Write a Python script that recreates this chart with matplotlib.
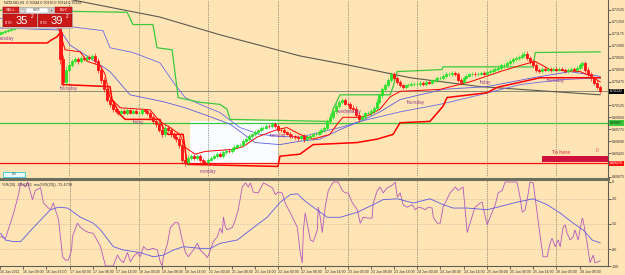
import matplotlib
matplotlib.use("Agg")
import matplotlib.pyplot as plt
from matplotlib.patches import Rectangle

# NZDUSD H1, hourly closes for each trading day (16 Jun - 28 Jun 2021)
first_open = 0.7117
c_16jun = [0.7119, 0.7120, 0.7122, 0.7123, 0.7125, 0.7126, 0.7128, 0.7129, 0.7131, 0.7131, 0.7132, 0.7132,
           0.7133, 0.7132, 0.7132, 0.7131, 0.7131, 0.7132, 0.7131, 0.7129, 0.7126, 0.7080, 0.7047, 0.7065]
c_17jun = [0.7072, 0.7077, 0.7080, 0.7077, 0.7082, 0.7080, 0.7084, 0.7082, 0.7085, 0.7077, 0.7065, 0.7050,
           0.7036, 0.7021, 0.7014, 0.7007, 0.7004, 0.7001, 0.7004, 0.7002, 0.7005, 0.7002, 0.7004, 0.7002]
c_18jun = [0.7002, 0.7005, 0.7004, 0.7001, 0.6995, 0.6989, 0.6985, 0.6977, 0.6970, 0.6980, 0.6977, 0.6970,
           0.6966, 0.6963, 0.6955, 0.6933, 0.6929, 0.6936, 0.6938, 0.6935, 0.6938, 0.6933, 0.6930, 0.6929]
c_21jun = [0.6933, 0.6936, 0.6938, 0.6941, 0.6939, 0.6944, 0.6946, 0.6945, 0.6949, 0.6952, 0.6954, 0.6955,
           0.6960, 0.6963, 0.6967, 0.6970, 0.6973, 0.6976, 0.6979, 0.6980, 0.6983, 0.6982, 0.6985, 0.6982]
c_22jun = [0.6977, 0.6976, 0.6973, 0.6971, 0.6968, 0.6967, 0.6966, 0.6964, 0.6967, 0.6963, 0.6966, 0.6967,
           0.6970, 0.6971, 0.6974, 0.6977, 0.6980, 0.6989, 0.6996, 0.7004, 0.7012, 0.7018, 0.7021, 0.7015]
c_23jun = [0.7014, 0.7009, 0.7007, 0.6999, 0.6992, 0.6995, 0.7001, 0.7002, 0.7004, 0.7009, 0.7018, 0.7027,
           0.7036, 0.7043, 0.7050, 0.7058, 0.7053, 0.7047, 0.7042, 0.7039, 0.7042, 0.7043, 0.7044, 0.7044]
c_24jun = [0.7044, 0.7046, 0.7044, 0.7047, 0.7046, 0.7049, 0.7050, 0.7052, 0.7053, 0.7055, 0.7058, 0.7059,
           0.7060, 0.7058, 0.7050, 0.7047, 0.7053, 0.7056, 0.7058, 0.7059, 0.7058, 0.7059, 0.7060, 0.7059]
c_25jun = [0.7062, 0.7063, 0.7065, 0.7066, 0.7068, 0.7071, 0.7072, 0.7075, 0.7077, 0.7080, 0.7082, 0.7084,
           0.7087, 0.7088, 0.7082, 0.7077, 0.7071, 0.7065, 0.7063, 0.7066, 0.7065, 0.7066, 0.7065, 0.7066]
c_28jun = [0.7065, 0.7066, 0.7065, 0.7063, 0.7065, 0.7066, 0.7065, 0.7068, 0.7071, 0.7074, 0.7065, 0.7058,
           0.7052, 0.7046, 0.7040, 0.7033]
day_closes = [c_16jun, c_17jun, c_18jun, c_21jun, c_22jun, c_23jun, c_24jun, c_25jun, c_28jun]

# total wick length of each hourly candle, pips
w_16jun = [4, 3, 3, 4, 3, 3, 4, 3, 3, 3, 4, 3, 3, 3, 4, 3, 3, 4, 3, 4, 6, 15, 12, 10]
w_17jun = [8, 6, 6, 7, 5, 6, 6, 5, 6, 8, 10, 10, 9, 8, 8, 7, 6, 6, 5, 5, 6, 5, 5, 5]
w_18jun = [5, 6, 5, 6, 7, 8, 8, 8, 9, 8, 7, 8, 7, 8, 9, 12, 10, 8, 6, 6, 5, 6, 5, 5]
w_21jun = [6, 5, 5, 6, 5, 6, 6, 5, 6, 6, 5, 6, 6, 6, 6, 5, 6, 5, 6, 5, 5, 5, 5, 5]
w_22jun = [6, 6, 6, 5, 6, 6, 5, 6, 5, 8, 5, 6, 5, 6, 5, 6, 6, 7, 7, 6, 7, 6, 6, 5]
w_23jun = [6, 6, 7, 8, 7, 6, 5, 5, 6, 6, 7, 7, 7, 6, 6, 7, 6, 6, 6, 5, 5, 5, 5, 5]
w_24jun = [5, 5, 5, 6, 5, 5, 5, 6, 5, 6, 6, 5, 6, 6, 7, 6, 6, 5, 5, 5, 5, 5, 5, 5]
w_25jun = [5, 5, 5, 6, 6, 6, 6, 6, 6, 7, 6, 6, 7, 7, 7, 7, 6, 6, 5, 5, 5, 5, 6, 5]
w_28jun = [5, 5, 5, 5, 5, 5, 5, 5, 6, 8, 6, 7, 7, 7, 8, 6]
day_wicks = [w_16jun, w_17jun, w_18jun, w_21jun, w_22jun, w_23jun, w_24jun, w_25jun, w_28jun]

# indicator lines (bar index, price)
green_bar = [0.2, 44.0, 46.0, 52.9, 54.3, 59.5, 61.6, 69.1, 76.0, 78.4, 79.5, 113.9, 115.0, 117.4, 134.7,
             135.7, 137.1, 152.6, 152.9, 184.0, 184.7, 207.1]
green_px = [0.7152, 0.7149, 0.7131, 0.7131, 0.7097, 0.7094, 0.7024, 0.7017, 0.7014, 0.7007, 0.6992, 0.6989,
            0.7007, 0.7028, 0.7028, 0.7040, 0.7062, 0.7065, 0.7069, 0.7069, 0.7090, 0.7091]

redlow_bar = [0.2, 16.4, 18.1, 19.8, 20.9, 21.6, 21.6, 38.1, 38.8, 41.6, 43.3, 55.3, 56.4, 58.1, 63.3, 64.7,
              96.0, 96.7, 103.6, 108.1, 123.3, 130.2, 135.7, 138.1, 148.4, 152.9, 154.3, 168.1, 171.6,
              186.4, 207.1]
redlow_px = [0.7104, 0.7104, 0.7109, 0.7113, 0.7119, 0.7119, 0.7043, 0.7040, 0.7021, 0.6999, 0.6992, 0.6992,
             0.6980, 0.6970, 0.6970, 0.6926, 0.6923, 0.6938, 0.6941, 0.6955, 0.6958, 0.6963, 0.6970, 0.6987,
             0.6989, 0.7011, 0.7024, 0.7031, 0.7039, 0.7053, 0.7053]

redfast_bar = [20.9, 21.6, 22.6, 27.8, 30.2, 34.7, 36.4, 38.1, 41.6, 51.9, 55.3, 58.8, 62.2, 64.0, 67.4,
               70.9, 80.5, 84.0, 88.8, 95.7, 99.1, 103.6, 108.1, 113.9, 116.4, 118.4, 124.3, 127.8, 131.2,
               134.7, 138.1, 151.9, 162.2, 172.6, 179.5, 184.7, 189.8, 200.2, 203.6, 207.1]
redfast_px = [0.7119, 0.7109, 0.7094, 0.7091, 0.7077, 0.7071, 0.7058, 0.7024, 0.7009, 0.7006, 0.6989,
              0.6980, 0.6970, 0.6951, 0.6941, 0.6945, 0.6948, 0.6952, 0.6966, 0.6977, 0.6980, 0.6970, 0.6963,
              0.6970, 0.6985, 0.6995, 0.6995, 0.6999, 0.7007, 0.7025, 0.7033, 0.7036, 0.7047, 0.7062, 0.7071,
              0.7077, 0.7065, 0.7062, 0.7056, 0.7047]

blueslow_bar = [0.2, 20.9, 24.3, 35.7, 38.1, 46.0, 55.3, 60.5, 64.0, 69.1, 76.0, 82.9, 89.8, 96.7, 103.6,
                110.5, 117.4, 124.3, 131.2, 138.1, 151.9, 165.7, 179.5, 193.3, 207.1]
blueslow_px = [0.7140, 0.7135, 0.7128, 0.7122, 0.7097, 0.7090, 0.7075, 0.7043, 0.7024, 0.7014, 0.7002,
               0.6980, 0.6970, 0.6967, 0.6966, 0.6973, 0.6980, 0.6989, 0.6996, 0.7003, 0.7014, 0.7028,
               0.7043, 0.7050, 0.7053]

bluefast_bar = [0.2, 20.9, 24.3, 31.2, 38.1, 45.0, 56.4, 64.0, 72.6, 79.5, 88.1, 96.7, 103.6, 110.5, 117.4,
                124.3, 131.2, 138.1, 152.9, 168.1, 184.0, 196.7, 207.1]
bluefast_px = [0.7126, 0.7123, 0.7101, 0.7082, 0.7062, 0.7028, 0.7018, 0.7009, 0.6996, 0.6985, 0.6958,
               0.6955, 0.6960, 0.6963, 0.6977, 0.6989, 0.7003, 0.7021, 0.7036, 0.7040, 0.7053, 0.7062, 0.7055]

ma200_bar = [14.0, 25.3, 55.3, 76.0, 103.6, 121.0, 141.6, 165.7, 189.8, 207.1]
ma200_px = [0.7179, 0.7167, 0.7142, 0.7116, 0.7085, 0.7071, 0.7053, 0.7040, 0.7033, 0.7028]

bid = 0.70332
green_level = 0.69867
red_level = 0.69276

day_names = ["tuesday", "thursday", "friday", "monday", "tuesday", "wednesday", "thursday", "friday", "thursday"]
day_name_bar = [-0.6, 20.9, 46.0, 69.1, 93.3, 116.4, 140.5, 165.7, 188.8]
day_name_px = [0.7110, 0.7037, 0.6987, 0.6916, 0.6968, 0.7003, 0.7017, 0.7046, 0.7049]

# Williams %R(20) and its moving average (bar index, value)
wpr_bar = [0.2, 1.9, 4.7, 6.4, 7.1, 8.8, 9.5, 11.2, 12.2, 14.0, 15.0, 16.4, 17.4, 18.4, 20.2, 21.6, 22.6, 23.6,
           24.7, 25.0, 26.7, 27.8, 28.8, 30.5, 32.2, 34.7, 36.4, 38.1, 39.1, 40.5, 41.6, 42.6, 44.0, 45.0,
           46.0, 47.4, 48.4, 49.5, 50.9, 52.9, 54.3, 55.3, 56.0, 56.4, 57.8, 58.8, 60.5, 61.6, 62.9, 64.0,
           65.0, 66.7, 68.1, 69.1, 70.9, 71.6, 72.6, 73.6, 75.0, 76.0, 76.7, 77.1, 77.8, 78.4, 80.2, 81.2,
           82.2, 83.6, 84.7, 85.7, 86.4, 87.4, 89.1, 90.9, 94.0, 95.0, 96.0, 97.4, 98.4, 100.2, 102.6, 103.6,
           104.3, 104.7, 105.3, 106.0, 107.1, 108.1, 109.5, 109.8, 110.5, 111.2, 112.2, 113.3, 115.0, 116.7,
           118.1, 119.1, 120.2, 121.6, 123.3, 124.3, 125.3, 127.1, 128.4, 128.8, 130.2, 131.2, 132.2, 133.6,
           135.3, 136.4, 137.1, 138.1, 139.1, 140.5, 142.2, 143.3, 144.3, 145.7, 146.7, 147.8, 149.1, 149.5,
           150.9, 151.9, 152.9, 155.3, 157.1, 158.1, 159.8, 161.2, 162.2, 163.9, 165.7, 166.4, 166.7, 168.1,
           169.1, 170.9, 171.9, 173.3, 174.3, 178.4, 179.5, 180.2, 181.2, 182.2, 182.9, 184.0, 185.3, 186.4,
           187.4, 188.8, 189.8, 190.5, 191.6, 192.6, 193.3, 194.3, 195.0, 195.7, 196.7, 197.8, 198.4, 199.5,
           200.9, 201.2, 202.6, 203.6, 204.7, 205.3, 206.4, 207.1]
wpr_val = [-65, -67, -37, -15, -1, -6, 0, -21, -10, -7, -25, -30, -33, -25, -45, -89, -93, -93,
           -81, -65, -49, -54, -57, -60, -61, -77, -100, -100, -100, -87, -93, -96, -84, -95,
           -89, -84, -89, -77, -81, -79, -81, -95, -100, -89, -73, -54, -48, -49, -69, -84,
           -89, -81, -73, -81, -87, -90, -81, -71, -65, -55, -61, -42, -54, -57, -54, -45,
           -33, -6, -1, -6, -1, -12, -13, -1, -7, -15, -12, -13, -25, -37, -54, -84,
           -96, -57, -37, -49, -69, -71, -57, -30, -42, -60, -30, -10, 0, 0,
           -10, -13, -13, -25, -33, -49, -42, -43, -43, -25, -10, -6, -13, -7,
           -4, 0, -18, -13, -27, -30, -27, -33, -30, -31, -33, -30, -31, -42,
           -49, -49, -30, -13, -6, -10, -6, -60, -49, -30, -25, -24, -30, -51,
           -42, -27, -13, -10, 0, 0, -19, -36, -33, -15, 0, -1, -36, -65,
           -89, -89, -73, -67, -77, -69, -77, -54, -51, -61, -69, -65, -57, -69,
           -43, -45, -73, -96, -87, -96, -95, -93.6]
wma_bar = [0.2, 1.9, 4.7, 7.1, 11.6, 17.4, 20.2, 23.3, 27.8, 32.2, 34.7, 39.1, 42.6, 48.4, 52.9, 56.4, 59.8,
           63.3, 69.1, 72.6, 76.0, 81.9, 86.4, 92.2, 96.7, 100.2, 102.6, 104.7, 108.1, 110.5, 112.9, 117.4,
           123.3, 128.8, 132.2, 137.1, 142.6, 148.4, 152.9, 156.4, 161.2, 168.1, 171.6, 178.4, 184.0, 188.8,
           193.3, 197.8, 201.2, 204.3, 207.1]
wma_val = [-61, -69, -71, -71, -54, -33, -30, -31, -42, -49, -57, -77, -81, -84, -89, -87, -81,
           -77, -79, -79, -73, -69, -57, -42, -24, -15, -14, -21, -30, -36, -42, -42,
           -36, -27, -21, -20, -25, -20, -27, -31, -31, -33, -30, -24, -20, -27,
           -37, -49, -57, -69, -72.5]

# price labels that are covered by the bid / level boxes are left blank
price_ticks = [0.71525, 0.71350, 0.71175, 0.71000, 0.70825, 0.70650, 0.70475, 0.70300, 0.70125,
               0.69950, 0.69775, 0.69600, 0.69425, 0.69250, 0.69075]
hidden_ticks = [0.70300, 0.69250]
wpr_ticks = [0, -20, -50, -80, -100]
day_starts = [24, 48, 72, 96, 120, 144, 168, 192]
time_labels = ["16 Jun 2021", "16 Jun 08:00", "16 Jun 16:00", "17 Jun 00:00", "17 Jun 08:00", "17 Jun 16:00",
               "18 Jun 00:00", "18 Jun 08:00", "18 Jun 16:00", "21 Jun 00:00", "21 Jun 08:00", "21 Jun 16:00",
               "22 Jun 00:00", "22 Jun 08:00", "22 Jun 16:00", "23 Jun 00:00", "23 Jun 08:00", "23 Jun 16:00",
               "24 Jun 00:00", "24 Jun 08:00", "24 Jun 16:00", "25 Jun 00:00", "25 Jun 08:00", "25 Jun 16:00",
               "28 Jun 00:00", "28 Jun 08:00"]

plt.rcParams["font.family"] = ["Liberation Sans", "DejaVu Sans"]
BG = "#FFE4B5"
AXC = "#5E5E52"
fig = plt.figure(figsize=(6.25, 2.75), dpi=100, facecolor=BG)
ax = fig.add_axes([0, 1 - 177 / 275, 608 / 625, 177 / 275], facecolor=BG)
ax2 = fig.add_axes([0, 1 - 266 / 275, 608 / 625, 87 / 275], facecolor=BG)

closes = []
wicks = []
for d, w in zip(day_closes, day_wicks):
    closes += d
    wicks += w
opens = [first_open] + closes[:-1]
idx = list(range(len(closes)))
heights = [c - o for o, c in zip(opens, closes)]
cols = ["#2EE02E" if h >= 0 else "#FF1414" for h in heights]
highs = [max(o, c) + w * 0.00005 for o, c, w in zip(opens, closes, wicks)]
lows = [min(o, c) - w * 0.00005 for o, c, w in zip(opens, closes, wicks)]
ax.vlines(idx, lows, highs, colors=cols, lw=0.5, zorder=5)
ax.bar(idx, heights, bottom=opens, width=0.7, color=cols, edgecolor=cols, linewidth=0.6, zorder=5)

# zones and levels
ax.add_patch(Rectangle((65.7, red_level), 96.0 - 65.7, 0.6989 - red_level, fc="#FBFCFF", ec="none", zorder=1))
ax.axhline(green_level, color="#3CC83C", lw=0.9, zorder=2)
ax.axhline(red_level, color="#FF1010", lw=0.9, zorder=2)
ax.axhline(bid, color="#8A8A78", lw=0.7, zorder=2)
ax.add_patch(Rectangle((187.1, 0.6929), 30, 0.0010, fc="#D0103A", ec="none", zorder=6))
ax.text(190.5, 0.6943, "To here", color="#E0303A", fontsize=4, va="center", zorder=7)
ax.text(205.5, 0.6946, "0", color="#E05050", fontsize=3.5, va="center", zorder=7)

ax.plot(ma200_bar, ma200_px, color="#5A5A4E", lw=0.8, zorder=3)
ax.plot(blueslow_bar, blueslow_px, color="#6A6AE6", lw=0.6, zorder=3)
ax.plot(bluefast_bar, bluefast_px, color="#5C5CE0", lw=0.6, zorder=3)
ax.plot(green_bar, green_px, color="#3CC83C", lw=0.9, zorder=3)
ax.plot(redlow_bar, redlow_px, color="#FF0000", lw=1.1, zorder=3)
ax.plot(redfast_bar, redfast_px, color="#FF0000", lw=0.7, zorder=4)

for name, b, p in zip(day_names, day_name_bar, day_name_px):
    ax.text(b, p, name, color="#8E3A8E", fontsize=3.3, va="center", ha="left", zorder=8, clip_on=True)

for d in day_starts:
    ax.axvline(d, color="#4A4A40", lw=0.5, ls=(0, (1, 1.5)), zorder=1)
    ax2.axvline(d, color="#4A4A40", lw=0.5, ls=(0, (1, 1.5)), zorder=1)

ax.set_xlim(0.17, 209.8)
ax.set_ylim(0.69086, 0.7167)
ax.set_xticks([])
ax.yaxis.tick_right()
ax.set_yticks(price_ticks)
ax.set_yticklabels(["" if p in hidden_ticks else f"{p:.5f}" for p in price_ticks])
ax.tick_params(axis="y", labelsize=2.6, length=2, width=0.5, pad=1, colors="#303030")
for s in ["top", "left", "bottom"]:
    ax.spines[s].set_visible(False)
ax.spines["right"].set_color(AXC)
ax.spines["right"].set_linewidth(0.8)

# right axis price boxes
for val, fc, tc in [(bid, "#000000", "white"), (green_level, "#3CC83C", "#103010"), (red_level, "#FF1010", "white")]:
    ax.text(1.003, val, f"{val:.5f}", transform=ax.get_yaxis_transform(), fontsize=2.6, color=tc,
            va="center", ha="left", clip_on=False, zorder=10,
            bbox=dict(boxstyle="square,pad=0.2", fc=fc, ec="none"))

# lower panel
for lv in [-20, -50, -80]:
    ax2.axhline(lv, color="#B8B0A0", lw=0.5, ls=(0, (1, 1.5)), zorder=1)
ax2.plot(wpr_bar, wpr_val, color="#B458BC", lw=0.6, zorder=3)
ax2.plot(wma_bar, wma_val, color="#5A5AE2", lw=0.6, zorder=3)
ax2.set_xlim(0.17, 209.8)
ax2.set_ylim(-100, 3.57)
ax2.yaxis.tick_right()
ax2.set_yticks(wpr_ticks)
ax2.set_yticklabels([str(t) for t in wpr_ticks])
ax2.tick_params(axis="y", labelsize=2.6, length=2, width=0.5, pad=1, colors="#303030")
ax2.set_xticks([8 * k for k in range(len(time_labels))])
ax2.set_xticklabels(time_labels, ha="left")
ax2.tick_params(axis="x", labelsize=2.5, length=2, width=0.5, pad=1, colors="#303030")
ax2.spines["left"].set_visible(False)
ax2.spines["top"].set_color("#6E6E5E")
ax2.spines["top"].set_linewidth(2.2)
ax2.spines["right"].set_color(AXC)
ax2.spines["right"].set_linewidth(0.8)
ax2.spines["bottom"].set_color(AXC)
ax2.spines["bottom"].set_linewidth(0.8)
ax2.text(0.004, 0.955, "%R(20) -93.6261  ma(%R(20)) -72.4739", transform=ax2.transAxes,
         fontsize=2.8, color="#303030", va="top", ha="left")

# one-click trading panel and small widgets (screen overlay)
ui = fig.add_axes([0, 0, 1, 1], facecolor="none")
ui.set_xlim(0, 625)
ui.set_ylim(275, 0)
ui.axis("off")
ui.text(4, 2.6, "NZDUSD,H1  0.70344 0.70370 0.70314 0.70332", fontsize=2.6, color="#202020", va="center")
ui.add_patch(Rectangle((2, 6.5), 70, 21, fc="#E8E8E8", ec="#A0A0A0", lw=0.4))
ui.add_patch(Rectangle((2.5, 7), 16.5, 6, fc="#D42020", ec="#901010", lw=0.3))
ui.text(10.7, 10, "SELL", fontsize=2.8, color="white", ha="center", va="center")
ui.add_patch(Rectangle((20, 7.5), 5, 5, fc="#DADADA", ec="#909090", lw=0.3))
ui.text(22.5, 10, "-", fontsize=3.5, color="#303030", ha="center", va="center")
ui.add_patch(Rectangle((26, 7.5), 22, 5, fc="white", ec="#909090", lw=0.3))
ui.text(37, 10, "0.03", fontsize=2.8, color="#303030", ha="center", va="center")
ui.add_patch(Rectangle((49, 7.5), 5, 5, fc="#DADADA", ec="#909090", lw=0.3))
ui.text(51.5, 10, "+", fontsize=3.5, color="#303030", ha="center", va="center")
ui.add_patch(Rectangle((55, 7), 16.5, 6, fc="#D42020", ec="#901010", lw=0.3))
ui.text(63.2, 10, "BUY", fontsize=2.8, color="white", ha="center", va="center")
ui.add_patch(Rectangle((2.5, 14), 34, 13, fc="#C81818", ec="#901010", lw=0.3))
ui.add_patch(Rectangle((37.5, 14), 34, 13, fc="#C81818", ec="#901010", lw=0.3))
ui.text(4.5, 23, "0.70", fontsize=2.8, color="white", va="center")
ui.text(16, 21, "35", fontsize=8, color="white", va="center")
ui.text(31, 16.5, "2", fontsize=3.5, color="white", va="center")
ui.text(39.5, 23, "0.70", fontsize=2.8, color="white", va="center")
ui.text(51, 21, "39", fontsize=8, color="white", va="center")
ui.text(66, 16.5, "2", fontsize=3.5, color="white", va="center")
ui.add_patch(Rectangle((3, 171.5), 22, 5, fc="#EAF8F6", ec="#30C8D0", lw=0.6))
ui.text(14, 174, "8.5", fontsize=2.6, color="#206060", ha="center", va="center")

fig.savefig("out.png", dpi=100, facecolor=BG)
